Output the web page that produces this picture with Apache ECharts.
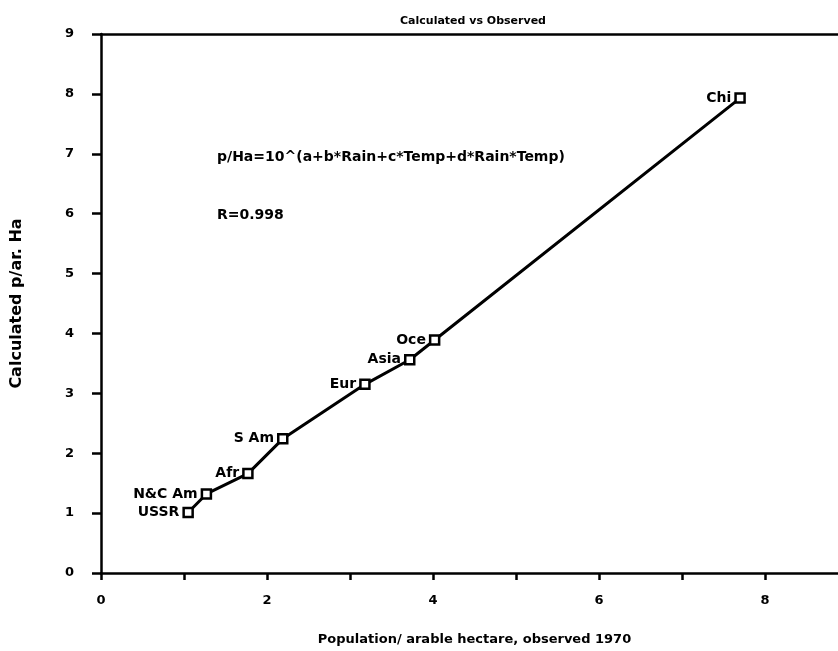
<!DOCTYPE html>
<html>
<head>
<meta charset="utf-8">
<script src="https://cdn.jsdelivr.net/npm/echarts@6/dist/echarts.min.js"></script>
<style>
  html, body { margin: 0; padding: 0; background: #fff; }
  #main { width: 838px; height: 651px; }
</style>
</head>
<body>
<div id="main"></div>
<script>
// regions, observed vs calculated persons per arable hectare
var regions = ['USSR', 'N&C Am', 'Afr', 'S Am', 'Eur', 'Asia', 'Oce', 'Chi'];
var observed = [1.05, 1.27, 1.77, 2.19, 3.18, 3.72, 4.02, 7.70];
var calculated = [1.01, 1.32, 1.66, 2.24, 3.15, 3.56, 3.89, 7.93];
var xTicks = [0, 1, 2, 3, 4, 5, 6, 7, 8];
var xLabels = [0, 2, 4, 6, 8];
var yTicks = [0, 1, 2, 3, 4, 5, 6, 7, 8, 9];

var font = '"DejaVu Sans", Verdana, sans-serif';

var chart = echarts.init(document.getElementById('main'));

var pts = [];
for (var i = 0; i < regions.length; i++) {
  pts.push({ name: regions[i], value: [observed[i], calculated[i]] });
}

var option = {
  backgroundColor: '#fff',
  animation: false,
  title: {
    text: 'Calculated vs Observed',
    left: 468,
    textAlign: 'center',
    top: 11,
    textStyle: { fontFamily: font, fontSize: 11, fontWeight: 'bold', color: '#000' }
  },
  grid: { left: 101, top: 34, bottom: 73, right: 0 },
  xAxis: [{
    type: 'value', min: 0, max: 8.88,
    name: 'Population/ arable hectare, observed 1970',
    nameLocation: 'middle', nameGap: 60,
    nameTextStyle: { fontFamily: font, fontSize: 13, fontWeight: 'bold', color: '#000', padding: [0, 0, 0, 10] },
    axisLine: { lineStyle: { color: '#000', width: 2.5 } },
    axisTick: { show: true, length: 7, customValues: xTicks, lineStyle: { color: '#000', width: 2.5 } },
    axisLabel: {
      margin: 21, fontFamily: font, fontSize: 13, fontWeight: 'bold', color: '#000',
      customValues: xLabels
    },
    splitLine: { show: false }
  }, {
    // top frame line
    type: 'value', position: 'top', min: 0, max: 8.88,
    axisLine: { show: true, lineStyle: { color: '#000', width: 2.5 } },
    axisTick: { show: false }, axisLabel: { show: false }, splitLine: { show: false }
  }],
  yAxis: {
    type: 'value', min: 0, max: 9, interval: 1,
    name: 'Calculated p/ar. Ha',
    nameLocation: 'middle', nameGap: 76, nameRotate: 90,
    nameTextStyle: { fontFamily: font, fontSize: 16, fontWeight: 'bold', color: '#000' },
    axisLine: { lineStyle: { color: '#000', width: 2.5 } },
    axisTick: { show: true, length: 9, lineStyle: { color: '#000', width: 2.5 } },
    axisLabel: {
      margin: 27, fontFamily: font, fontSize: 13, fontWeight: 'bold', color: '#000',
      customValues: yTicks
    },
    splitLine: { show: false }
  },
  series: [{
    type: 'line',
    data: pts,
    symbol: 'rect',
    symbolSize: 9,
    itemStyle: { color: '#fff', borderColor: '#000', borderWidth: 2.5 },
    lineStyle: { color: '#000', width: 3 },
    label: {
      show: true, position: 'left', distance: 3,
      formatter: '{b}',
      fontFamily: font, fontSize: 14, fontWeight: 'bold', color: '#000'
    }
  }],
  graphic: [
    {
      type: 'text', left: 217, top: 150,
      style: { text: 'p/Ha=10^(a+b*Rain+c*Temp+d*Rain*Temp)', font: 'bold 14px ' + font, fill: '#000' }
    },
    {
      type: 'text', left: 217, top: 208,
      style: { text: 'R=0.998', font: 'bold 14px ' + font, fill: '#000' }
    }
  ]
};

chart.setOption(option);
</script>
</body>
</html>
